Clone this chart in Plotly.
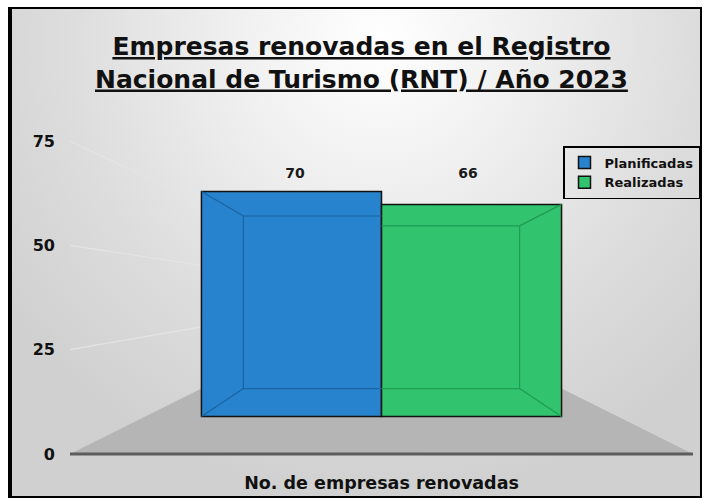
import base64
import plotly.graph_objects as go

# ---------------- data ----------------
series_names = ["Planificadas", "Realizadas"]
series_values = [70, 66]
category_label = "No. de empresas renovadas"
tick_values = [0, 25, 50, 75]
title_lines = ["Empresas renovadas en el Registro", "Nacional de Turismo (RNT) / Año 2023"]

# ---------------- style ----------------
bar_colors = ["#2783cd", "#31c36d"]
edge_colors = ["#1b63a2", "#1d9c54"]
FONT = "DejaVu Sans"

W, H = 706, 500
L, R, T, B = 70, 13, 120, 30
plot_w = W - L - R
plot_h = H - T - B

X_HALF = 1.73            # x range half width (1 unit = one bar width)
PX_PER_UNIT_Y = 3.214    # front-face scale
ZERO_PX = 416.5          # pixel row of value 0 on the front face
y_min = -(H - B - ZERO_PX) / PX_PER_UNIT_Y
y_max = y_min + plot_h / PX_PER_UNIT_Y

VP_Y = 37.3              # vanishing level (data units)
DEPTH = 0.767            # back-face scale factor
WALL_OFFSET = -11.67     # left wall front edge mapping
WALL_SCALE = 1.2984
LABEL_PAD = 5.4


def back_pt(x, y):
    return DEPTH * x, VP_Y + DEPTH * (y - VP_Y)


def wall(v):
    return WALL_OFFSET + WALL_SCALE * v


def pxx(px):
    return (px - L) / plot_w


def pxy(py):
    return (H - B - py) / plot_h


fig = go.Figure()

# bars
centers = [-0.5, 0.5]
for name, val, col, cx in zip(series_names, series_values, bar_colors, centers):
    fig.add_trace(go.Bar(
        x=[cx], y=[val], width=[1], name=name,
        marker=dict(color=col, line=dict(color="#111111", width=1.5)),
        hoverinfo="name+y",
    ))

# inner 3D edges of each bar
for val, col, cx in zip(series_values, edge_colors, centers):
    outer = -1 if cx < 0 else 1
    pts = [back_pt(0, val), back_pt(outer, val), back_pt(outer, 0), back_pt(0, 0)]
    xs = [p[0] for p in pts] + [None]
    ys = [p[1] for p in pts] + [None]
    bx, by = back_pt(outer, val)
    xs += [outer, bx, None]
    ys += [val, by, None]
    bx, by = back_pt(outer, 0)
    xs += [outer, bx]
    ys += [0, by]
    fig.add_trace(go.Scatter(
        x=xs, y=ys, mode="lines", line=dict(color=col, width=1.2),
        showlegend=False, hoverinfo="skip",
    ))

# data labels
label_y = max(series_values) + LABEL_PAD
fig.add_trace(go.Scatter(
    x=[c + 0.02 * (1 if c < 0 else -1) for c in centers],
    y=[label_y] * len(series_values), mode="text",
    text=[str(v) for v in series_values],
    textfont=dict(family=FONT, size=14, color="#1a1a1a", weight="bold"),
    showlegend=False, hoverinfo="skip", cliponaxis=False,
))

shapes = []
# floor
b0 = back_pt(1, 0)[1]
floor_path = (f"M {-X_HALF} {wall(0)} L {X_HALF} {wall(0)} "
              f"L 1 {b0} L -1 {b0} Z")
shapes.append(dict(type="path", path=floor_path, xref="x", yref="y",
                   fillcolor="#b5b5b5", line=dict(width=0), layer="below"))
# wall gridlines
for v in tick_values[1:]:
    shapes.append(dict(type="line", xref="x", yref="y",
                       x0=-X_HALF, y0=wall(v), x1=-1, y1=back_pt(-1, v)[1],
                       line=dict(color="#e4e4e4", width=1.2), layer="below"))
# zero axis line
shapes.append(dict(type="line", xref="x", yref="y",
                   x0=-X_HALF, y0=wall(0), x1=X_HALF, y1=wall(0),
                   line=dict(color="#5c5c5c", width=3), layer="below"))
# frame
shapes.append(dict(type="rect", xref="paper", yref="paper",
                   x0=pxx(9), y0=pxy(497), x1=pxx(701), y1=pxy(8),
                   line=dict(color="#000000", width=2), layer="above"))
shapes.append(dict(type="line", xref="paper", yref="paper",
                   x0=pxx(10), y0=pxy(497), x1=pxx(10), y1=pxy(8),
                   line=dict(color="#000000", width=4), layer="above"))

# background gradient image
svg = (
    '<svg xmlns="http://www.w3.org/2000/svg" width="692" height="489" viewBox="0 0 692 489">'
    '<defs><radialGradient id="g" gradientUnits="userSpaceOnUse" cx="371" cy="32" r="460">'
    '<stop offset="0" stop-color="#ffffff"/>'
    '<stop offset="0.35" stop-color="#eeeeee"/>'
    '<stop offset="0.7" stop-color="#dcdcdc"/>'
    '<stop offset="1" stop-color="#d0d0d0"/>'
    '</radialGradient></defs>'
    '<rect x="0" y="0" width="692" height="489" fill="url(#g)"/></svg>'
)
src = "data:image/svg+xml;base64," + base64.b64encode(svg.encode()).decode()

fig.update_layout(
    width=W, height=H,
    margin=dict(l=L, r=R, t=T, b=B, pad=0, autoexpand=False),
    paper_bgcolor="#ffffff",
    plot_bgcolor="rgba(0,0,0,0)",
    barmode="overlay",
    showlegend=True,
    legend=dict(
        x=pxx(700), xanchor="right", y=pxy(146), yanchor="top",
        bgcolor="rgba(0,0,0,0)", bordercolor="#000000", borderwidth=1.5,
        font=dict(family=FONT, size=13, color="#111111", weight="bold"),
        itemwidth=30, tracegroupgap=0,
    ),
    xaxis=dict(range=[-X_HALF, X_HALF], showgrid=False, zeroline=False,
               showline=False, tickvals=[0], ticktext=[category_label],
               tickfont=dict(family=FONT, size=17.5, color="#111111", weight="bold"),
               automargin=False, fixedrange=True),
    yaxis=dict(range=[y_min, y_max], showgrid=False, zeroline=False,
               showline=False, tickvals=[wall(v) for v in tick_values],
               ticktext=[str(v) for v in tick_values],
               tickfont=dict(family=FONT, size=16, color="#111111", weight="bold"),
               ticklabelstandoff=14, automargin=False, fixedrange=True),
    shapes=shapes,
    images=[dict(source=src, xref="paper", yref="paper",
                 x=pxx(9), y=pxy(8), sizex=692 / plot_w, sizey=489 / plot_h,
                 xanchor="left", yanchor="top", sizing="stretch", layer="below")],
    annotations=[dict(
        text="<br>".join(title_lines), xref="paper", yref="paper",
        x=pxx(361), y=pxy(30), xanchor="center", yanchor="top", showarrow=False,
        font=dict(family=FONT, size=25, color="#111111", weight="bold",
                  lineposition="under"),
    )],
)

page_fix = (
    "document.body.style.margin='0';"
    "document.body.style.overflow='hidden';"
)

fig.write_html("out.html", post_script=page_fix,
               config={"displayModeBar": False})
